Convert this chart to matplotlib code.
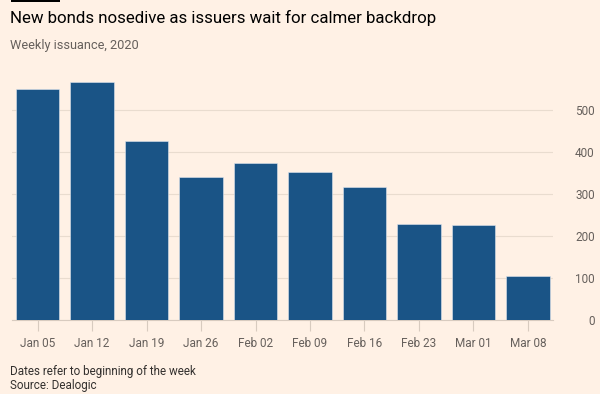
import matplotlib
matplotlib.use("Agg")
import matplotlib.pyplot as plt

categories = ["Jan 05", "Jan 12", "Jan 19", "Jan 26", "Feb 02", "Feb 09",
              "Feb 16", "Feb 23", "Mar 01", "Mar 08"]
values = [552, 568, 427, 341, 375, 353, 317, 229, 227, 106]
yticks = [0, 100, 200, 300, 400, 500]

title = "New bonds nosedive as issuers wait for calmer backdrop"
subtitle = "Weekly issuance, 2020"
note1 = "Dates refer to beginning of the week"
note2 = "Source: Dealogic"

BG = "#fff1e5"
BAR = "#1a5486"
TXT = "#66605c"
GRID = "#e9dccf"

plt.rcParams['font.family'] = ['Roboto', 'DejaVu Sans']

W, H = 600, 394
fig = plt.figure(figsize=(W / 100, H / 100), dpi=100, facecolor=BG)
ax = fig.add_axes([12 / W, 1 - 320 / H, (553 - 12) / W, (320 - 68.6) / H])
ax.set_facecolor(BG)

x = list(range(len(categories)))
ax.bar(x, values, width=0.8, color=BAR, edgecolor="#dfe6ee", linewidth=0.4, zorder=3)

ax.set_xlim(-0.47, len(categories) - 1 + 0.46)
ax.set_ylim(0, 600)
ax.set_yticks(yticks)
ax.yaxis.tick_right()
ax.grid(axis="y", color=GRID, linewidth=0.8, zorder=0)
for s in ["top", "left", "right"]:
    ax.spines[s].set_visible(False)
ax.spines["bottom"].set_color("#d8cbbf")
ax.spines["bottom"].set_linewidth(0.8)
ax.tick_params(axis="y", length=0, pad=30, labelsize=8.5, labelcolor=TXT)
for lab in ax.get_yticklabels():
    lab.set_horizontalalignment("right")
ax.set_xticks(x)
ax.set_xticklabels(categories)
ax.tick_params(axis="x", length=8, color="#d8cbbf", width=0.8, pad=4,
               labelsize=8.5, labelcolor=TXT)

fig.patches.append(plt.Rectangle((11 / W, 1 - 2 / H), 49 / W, 2 / H, linewidth=0,
                                 transform=fig.transFigure, facecolor="#000000"))
fig.text(10 / W, 1 - 18 / H, title, fontsize=12.2, color="#000000", va="center", ha="left")
fig.text(10 / W, 1 - 45 / H, subtitle, fontsize=9.2, color=TXT, va="center", ha="left")
fig.text(10 / W, 1 - 371 / H, note1, fontsize=8.4, color="#33302e", va="center", ha="left")
fig.text(10 / W, 1 - 385 / H, note2, fontsize=8.4, color="#33302e", va="center", ha="left")

fig.savefig("out.png", dpi=100, facecolor=BG)
